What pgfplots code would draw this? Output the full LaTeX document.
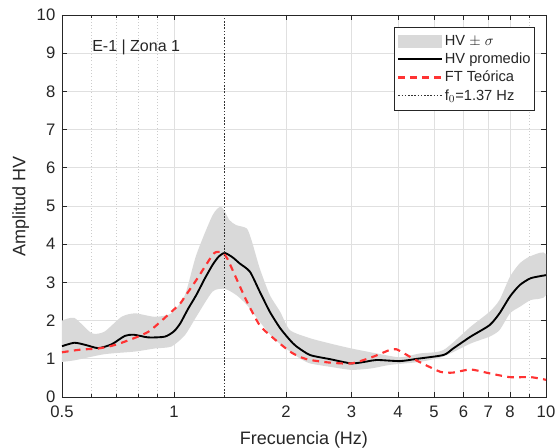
\documentclass[border=0pt]{standalone}
\usepackage{pgfplots}
\pgfplotsset{compat=1.18}
\usepackage{fontspec}
\setmainfont{Liberation Sans}
\definecolor{txt}{RGB}{38,38,38}
\definecolor{band}{RGB}{217,217,217}
\definecolor{ftred}{RGB}{255,51,51}
\begin{document}
\begin{tikzpicture}
\useasboundingbox (-46.5pt,-37.5pt) rectangle (372.75pt,297.75pt);
\begin{axis}[
  at={(0pt,0pt)}, anchor=south west,
  scale only axis, width=363pt, height=286.5pt,
  xmode=log, xmin=0.5, xmax=10, ymin=0, ymax=10,
  xtick={0.5,1,2,3,4,5,6,7,8,10},
  xticklabels={0.5,1,2,3,4,5,6,7,8,10},
  minor xtick={0.6,0.7,0.8,0.9,9},
  ytick={0,1,...,10},
  /pgf/number format/assume math mode=true,
  xmajorgrids, ymajorgrids, xminorgrids,
  major grid style={black!12, line width=0.5pt},
  minor grid style={black!20, dotted, line width=0.5pt},
  axis line style={txt, line width=0.6pt},
  tick style={txt, line width=0.5pt},
  major tick length=4pt, minor tick length=2.5pt,
  tick label style={font=\fontsize{12.5}{15}\selectfont, text=txt},
  xticklabel style={yshift=-3pt},
  yticklabel style={xshift=-1.5pt},
  xlabel={Frecuencia (Hz)}, ylabel={Amplitud HV},
  label style={font=\fontsize{13.5}{16}\selectfont, text=txt},
  xlabel style={at={(axis description cs:0.5,0)}, anchor=north, inner sep=0pt, yshift=-26pt},
  ylabel style={at={(axis description cs:0,0.5)}, anchor=center, inner sep=0pt, yshift=31pt},
  legend style={at={(0.977,0.969)}, anchor=north east, draw=txt, line width=0.6pt,
    font=\fontsize{11}{13}\selectfont, text=txt, inner xsep=2pt, inner ysep=5pt, row sep=2.2pt,
    nodes={inner sep=1pt}},
  legend cell align=left,
]
\addplot[fill=band, draw=none, smooth, tension=0.4,
  legend image code/.code={\fill[band] (0pt,-5pt) rectangle (33pt,5pt);}]
 coordinates {
 (0.5,2.0) (0.54,2.07) (0.601,1.67) (0.65,1.71) (0.723,2.10) (0.786,2.19) (0.888,2.10) (0.984,2.19) (1.07,2.67) (1.148,3.72) (1.27,4.76) (1.34,4.98) (1.41,4.63) (1.47,4.50) (1.57,4.41) (1.62,4.07) (1.70,3.37) (1.81,2.67) (1.93,2.23) (2.05,1.75) (2.32,1.54) (2.63,1.40) (3.0,1.27) (3.51,1.14) (4.05,1.04) (4.58,1.14) (5.3,1.23) (6.27,1.84) (7.05,2.23) (7.5,2.54) (8.0,3.15) (8.5,3.50) (9.1,3.69) (10,3.74)
 (10,2.67) (9.1,2.54) (8.5,2.36) (8.0,2.19) (7.5,1.75) (7.05,1.58) (6.27,1.40) (5.3,1.06) (4.58,0.92) (3.80,0.84) (3.4,0.75) (3.0,0.71) (2.63,0.79) (2.32,0.88) (2.18,1.01) (2.05,1.19) (1.85,1.54) (1.70,1.97) (1.57,2.41) (1.47,2.67) (1.37,2.83) (1.27,2.76) (1.148,2.10) (1.07,1.62) (0.984,1.32) (0.888,1.27) (0.786,1.19) (0.65,1.12) (0.54,0.96) (0.5,0.92)
 } -- cycle;
\addlegendentry{HV $\pm$ $\sigma$}
\addplot[black, line width=1.4pt, smooth, tension=0.4,
  legend image code/.code={\draw[black, line width=1.4pt] (0pt,0pt) -- (33pt,0pt);}]
 coordinates {
 (0.5,1.33) (0.54,1.42) (0.58,1.36) (0.626,1.28) (0.68,1.38) (0.738,1.60) (0.78,1.63) (0.854,1.56) (0.945,1.58) (1.0,1.72) (1.04,1.93) (1.09,2.30) (1.148,2.67) (1.21,3.10) (1.27,3.46) (1.32,3.68) (1.37,3.77) (1.44,3.65) (1.50,3.50) (1.60,3.28) (1.70,2.76) (1.81,2.23) (1.93,1.80) (2.05,1.49) (2.13,1.33) (2.32,1.10) (2.63,0.99) (3.0,0.88) (3.3,0.93) (3.51,0.97) (4.05,0.94) (4.5,1.00) (5.3,1.10) (5.63,1.27) (6.27,1.58) (7.05,1.88) (7.5,2.19) (8.0,2.63) (8.5,2.93) (9.1,3.11) (10,3.19)
 };
\addlegendentry{HV promedio}
\addplot[ftred, line width=1.6pt, dash pattern=on 5pt off 4pt, smooth, tension=0.4,
  legend image code/.code={\draw[ftred, line width=1.6pt, dash pattern=on 5pt off 4pt] (0pt,0pt) -- (33pt,0pt);}]
 coordinates {
 (0.5,1.17) (0.56,1.24) (0.626,1.27) (0.68,1.34) (0.738,1.45) (0.854,1.71) (0.984,2.23) (1.04,2.45) (1.07,2.63) (1.148,3.06) (1.27,3.72) (1.31,3.80) (1.35,3.78) (1.39,3.63) (1.47,3.11) (1.57,2.50) (1.70,1.88) (1.85,1.54) (2.05,1.19) (2.18,1.05) (2.32,0.97) (2.63,0.90) (3.0,0.88) (3.4,1.04) (3.80,1.23) (3.96,1.25) (4.16,1.14) (4.5,0.95) (5.2,0.66) (5.63,0.64) (6.27,0.72) (7.05,0.62) (8.0,0.52) (9.1,0.52) (10,0.45)
 };
\addlegendentry{FT Teórica}
\addplot[black!80, line width=0.7pt, dash pattern=on 1.2pt off 1.2pt,
  legend image code/.code={\draw[black!80, line width=0.7pt, dash pattern=on 1.2pt off 1.2pt] (0pt,0pt) -- (33pt,0pt);}]
 coordinates {(1.37,0) (1.37,10)};
\addlegendentry{f$_0$=1.37 Hz}
\node[anchor=west, inner sep=0pt, font=\fontsize{12}{14}\selectfont, text=txt] at (axis description cs:0.062,0.914) {E-1 | Zona 1};
\end{axis}
\end{tikzpicture}
\end{document}
